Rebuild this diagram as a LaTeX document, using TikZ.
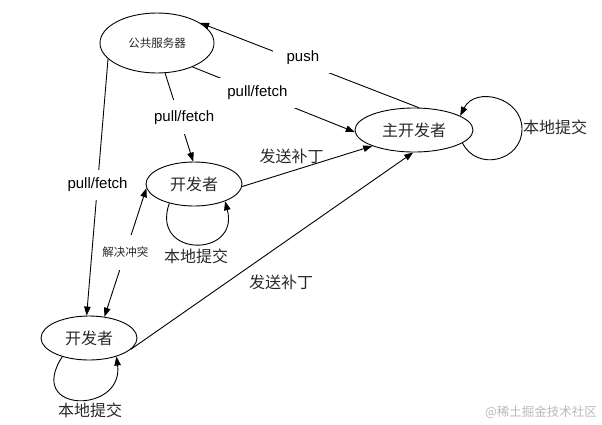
\documentclass[tikz,border=0pt]{standalone}
\usepackage{fontspec}
\setmainfont{Liberation Sans}
\newfontfamily\cjk{Noto Sans CJK SC}
\usetikzlibrary{shapes.geometric,arrows.meta}
\definecolor{txt}{RGB}{40,40,40}
\definecolor{wm}{RGB}{185,185,185}
\begin{document}
\begin{tikzpicture}[x=1pt,y=-1pt,
  ell/.style={draw,ellipse,inner sep=0pt,line width=0.9pt,text=txt,font=\cjk\fontsize{16}{16}\selectfont},
  conn/.style={line width=0.9pt,-{Triangle[length=9pt,width=6.5pt]}},
  lbl/.style={fill=white,inner xsep=10pt,inner ysep=8pt,text=black,font=\fontsize{15}{15}\selectfont},
  clbl/.style={inner sep=1pt,text=txt,font=\cjk\fontsize{16}{16}\selectfont}]
\useasboundingbox (0,0) rectangle (602,424);
% nodes
\node[ell,minimum width=114pt,minimum height=60pt,font=\cjk\fontsize{11.5}{11.5}\selectfont] (server) at (157,43) {公共服务器};
\node[ell,minimum width=118pt,minimum height=44pt] (main) at (414,130) {主开发者};
\node[ell,minimum width=96pt,minimum height=44pt] (mid) at (194,184) {开发者};
\node[ell,minimum width=96pt,minimum height=44pt] (low) at (89,338) {开发者};
% loop labels
\node[clbl] (mainloop) at (555,127) {本地提交};
\node[clbl] (midloop) at (196,256) {本地提交};
\node[clbl] (lowloop) at (90,410) {本地提交};
% edges
\draw[conn] (main.78) -- node[lbl,pos=0.53,yshift=5pt,inner xsep=14pt] (pushl) {push} (server.25);
\draw[conn] (server.-34) -- node[lbl,pos=0.40,inner xsep=12pt] (pf1) {pull/fetch} (main.182);
\draw[conn] (server.-75) -- node[lbl,pos=0.50,xshift=5pt,inner ysep=10pt] (pf2) {pull/fetch} (mid.92);
\draw[conn] (server.198) -- node[lbl,pos=0.49] (pf3) {pull/fetch} (low.96);
\draw[conn] (mid.-3) -- node[clbl,pos=0.38,yshift=15pt] (patch1) {发送补丁} (main.201);
\draw[conn] (low.-15) -- node[clbl,pos=0.532,yshift=-38pt] (patch2) {发送补丁} (main.-92);
\draw[line width=0.9pt,{Triangle[length=9pt,width=6.5pt]}-{Triangle[length=9pt,width=6.5pt]}] (low.54) -- node[fill=white,inner xsep=3pt,inner ysep=12pt,text=txt,font=\cjk\fontsize{11.5}{11.5}\selectfont] (resolve) {解决冲突} (mid.185);
% loops
\coordinate (mainR) at (522,129);
\draw[conn] (main.-15) .. controls (477,172) and (522,161) .. (mainR) .. controls (522,97) and (475,86) .. (main.17);
\draw[conn] (mid.-142) .. controls (150,258) and (240,258) .. (mid.-29);
\draw[conn] (low.-145) .. controls (25,414) and (124,414) .. (low.-34);
% watermark
\node[text=wm,font=\cjk\fontsize{12.5}{12.5}\selectfont,inner sep=0pt] (mark) at (541,412) {@稀土掘金技术社区};
\end{tikzpicture}
\end{document}
